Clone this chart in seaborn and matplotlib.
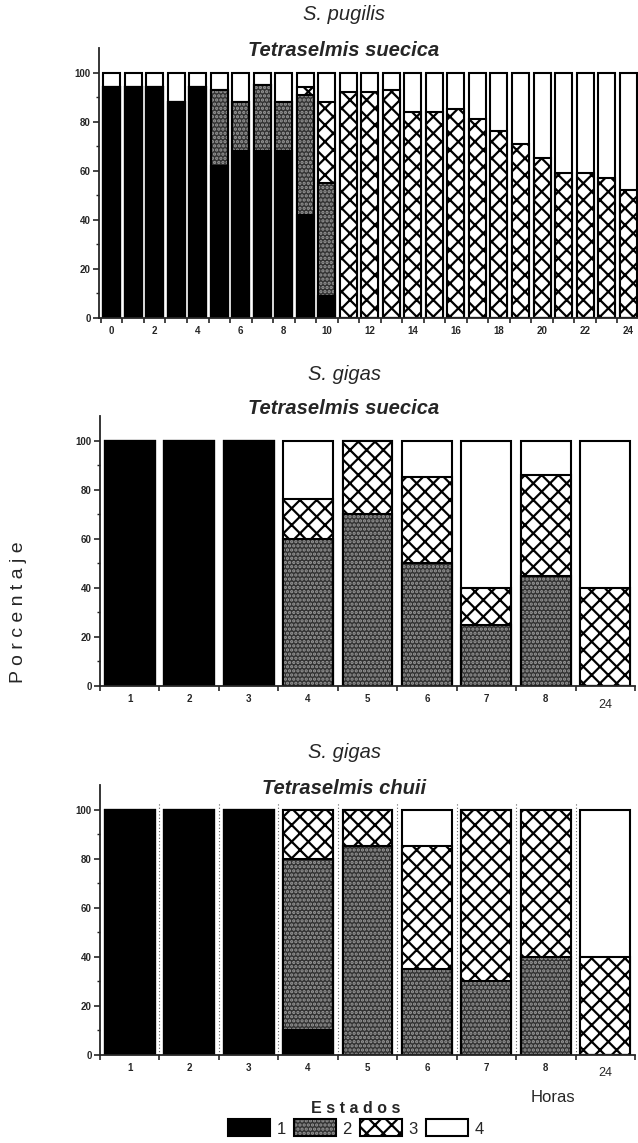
import matplotlib
matplotlib.use("Agg")
import matplotlib.pyplot as plt
import matplotlib.transforms as mtransforms
from matplotlib.patches import Patch
import seaborn as sns
import numpy as np

# ---------------- data ----------------
top_hours = [str(h) for h in range(25)]
top_s1 = [94, 94, 94, 88, 94, 62, 68, 68, 68, 42, 9, 0, 0, 0, 0, 0, 0, 0, 0, 0, 0, 0, 0, 0, 0]
top_s2 = [0, 0, 0, 0, 0, 31, 20, 27, 20, 49, 46, 0, 0, 0, 0, 0, 0, 0, 0, 0, 0, 0, 0, 0, 0]
top_s3 = [0, 0, 0, 0, 0, 0, 0, 0, 0, 3, 33, 92, 92, 93, 84, 84, 85, 81, 76, 71, 65, 59, 59, 57, 52]
top_s4 = [6, 6, 6, 12, 6, 7, 12, 5, 12, 6, 12, 8, 8, 7, 16, 16, 15, 19, 24, 29, 35, 41, 41, 43, 48]
top_ticklabels = ["0", "2", "4", "6", "8", "10", "12", "14", "16", "18", "20", "22", "24"]

gig_hours = ["1", "2", "3", "4", "5", "6", "7", "8", "24"]
mid_s1 = [100, 100, 100, 0, 0, 0, 0, 0, 0]
mid_s2 = [0, 0, 0, 60, 70, 50, 25, 45, 0]
mid_s3 = [0, 0, 0, 16, 30, 35, 15, 41, 40]
mid_s4 = [0, 0, 0, 24, 0, 15, 60, 14, 60]

bot_s1 = [100, 100, 100, 10, 0, 0, 0, 0, 0]
bot_s2 = [0, 0, 0, 70, 85, 35, 30, 40, 0]
bot_s3 = [0, 0, 0, 20, 15, 50, 70, 60, 40]
bot_s4 = [0, 0, 0, 0, 0, 15, 0, 0, 60]

legend_labels = ["1", "2", "3", "4"]

# ---------------- style ----------------
sns.set_style("ticks")
plt.rcParams["font.family"] = ["Liberation Sans", "DejaVu Sans"]
plt.rcParams["hatch.linewidth"] = 1.6

W, H = 638, 1143
fig = plt.figure(figsize=(W / 100, H / 100), dpi=100)


def add_ax(left, top, right, bottom):
    return fig.add_axes([left / W, 1 - bottom / H, (right - left) / W, (bottom - top) / H])


STIP_FACE = "#333333"
STIP_DOT = "#9a9a9a"
STIP_HATCH = "...."
CROSS = "xx"


def draw_panel(ax, cats, s1, s2, s3, s4, width):
    s1, s2, s3, s4 = (np.asarray(v, dtype=float) for v in (s1, s2, s3, s4))
    c1 = s1
    c2 = c1 + s2
    c3 = c2 + s3
    c4 = c3 + s4

    def layer(vals, **props):
        n0 = len(ax.patches)
        sns.barplot(x=cats, y=vals, order=cats, ax=ax, width=width,
                    errorbar=None, saturation=1, color="white")
        for p in ax.patches[n0:]:
            p.set(**props)

    layer(c4, facecolor="white", edgecolor="black", linewidth=1.5)
    layer(c3, facecolor="white", edgecolor="black", linewidth=1.5, hatch=CROSS)
    layer(c2, facecolor=STIP_FACE, edgecolor=STIP_DOT, linewidth=0, hatch=STIP_HATCH)
    layer(c2, fill=False, edgecolor="black", linewidth=1.5)
    layer(c1, facecolor="black", edgecolor="black", linewidth=1.5)


def style_axes(ax, n, xlim, labels_at, labels):
    ax.set_ylim(0, 110)
    ax.set_xlim(*xlim)
    ax.set_xlabel("")
    ax.set_ylabel("")
    for s in ("top", "right"):
        ax.spines[s].set_visible(False)
    for s in ("left", "bottom"):
        ax.spines[s].set_linewidth(1.3)
    ax.set_yticks([0, 20, 40, 60, 80, 100])
    ax.set_yticklabels(["0", "20", "40", "60", "80", "100"], fontsize=7, fontweight="bold")
    ax.set_yticks([10, 30, 50, 70, 90], minor=True)
    ax.set_xticks(labels_at)
    ax.set_xticklabels(labels, fontsize=7, fontweight="bold")
    ax.set_xticks(np.arange(-0.5, n, 1.0), minor=True)
    ax.tick_params(axis="y", which="major", length=4, width=1.2, pad=2)
    ax.tick_params(axis="y", which="minor", length=2.5, width=1.0)
    ax.tick_params(axis="x", which="major", length=0, pad=6)
    ax.tick_params(axis="x", which="minor", length=3.5, width=1.2)


# ---------------- top panel ----------------
ax1 = add_ax(99, 48, 641, 318)
draw_panel(ax1, top_hours, top_s1, top_s2, top_s3, top_s4, 0.79)
style_axes(ax1, 25, (-0.59, 24.6), list(range(0, 25, 2)), top_ticklabels)

# ---------------- middle panel ----------------
ax2 = add_ax(100, 416, 635, 686)
draw_panel(ax2, gig_hours, mid_s1, mid_s2, mid_s3, mid_s4, 0.84)
style_axes(ax2, 9, (-0.5, 8.5), list(range(9)), gig_hours)

# ---------------- bottom panel ----------------
ax3 = add_ax(100, 785, 635, 1055)
ax3.vlines(np.arange(0.5, 8.5, 1.0), 0, 103, colors="#666666", linestyles=(0, (1, 2)),
           linewidth=0.8, zorder=0)
draw_panel(ax3, gig_hours, bot_s1, bot_s2, bot_s3, bot_s4, 0.84)
style_axes(ax3, 9, (-0.5, 8.5), list(range(9)), gig_hours)

# "24" label drawn in a different style, slightly lower
for ax in (ax2, ax3):
    lbl = ax.get_xticklabels()[-1]
    lbl.set_fontweight("normal")
    lbl.set_fontsize(9)
    lbl.set_transform(lbl.get_transform() + mtransforms.ScaledTranslation(0, -3 / 72, fig.dpi_scale_trans))

# ---------------- titles ----------------
def title(y_px, text, weight):
    fig.text(344 / W, 1 - y_px / H, text, ha="center", va="center", fontsize=14.5,
             style="italic", fontweight=weight)

title(15, "S. pugilis", "normal")
title(50, "Tetraselmis suecica", "bold")
title(375, "S. gigas", "normal")
title(408, "Tetraselmis suecica", "bold")
title(753, "S. gigas", "normal")
title(788, "Tetraselmis chuii", "bold")

fig.text(19 / W, 1 - 612 / H, "P o r c e n t a j e", rotation=90, ha="center", va="center",
         fontsize=14)
fig.text(553 / W, 1 - 1098 / H, "Horas", ha="center", va="center", fontsize=12)

# ---------------- legend ----------------
h1 = Patch(facecolor="black", edgecolor="black", linewidth=1.5)
h2 = (Patch(facecolor=STIP_FACE, edgecolor=STIP_DOT, hatch=STIP_HATCH, linewidth=0),
      Patch(fill=False, edgecolor="black", linewidth=1.5))
h3 = Patch(facecolor="white", edgecolor="black", hatch=CROSS, linewidth=1.5)
h4 = Patch(facecolor="white", edgecolor="black", linewidth=1.5)
leg = fig.legend([h1, h2, h3, h4], legend_labels, ncol=4, loc="upper center",
                 bbox_to_anchor=(356 / W, 1 - 1091 / H), frameon=False, fontsize=12,
                 handlelength=2.5, handleheight=1.2, handletextpad=0.4, columnspacing=0.5,
                 title="E s t a d o s", borderpad=0.1, labelspacing=0.2)
leg.get_title().set_fontweight("bold")
leg.get_title().set_fontsize(11.5)

fig.savefig("out.png", dpi=100)
